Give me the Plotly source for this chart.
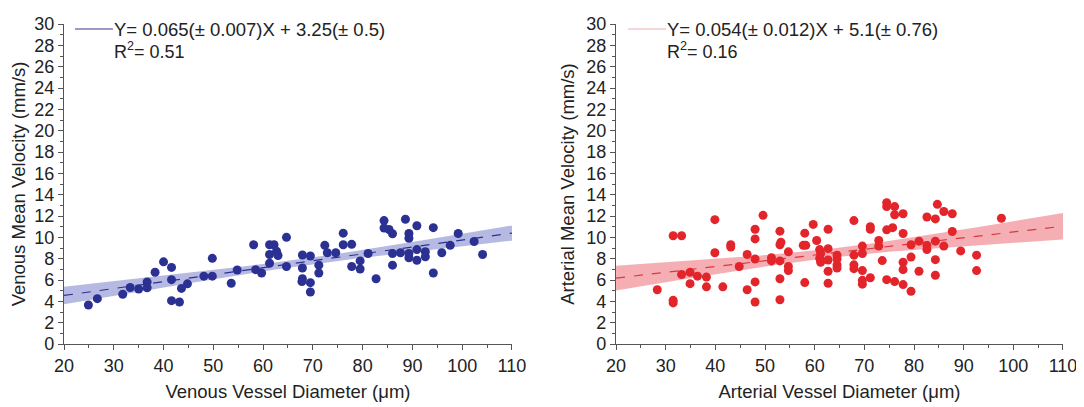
import numpy as np
import plotly.graph_objects as go
from plotly.subplots import make_subplots

# ---------------- data ----------------
ven_d = [24.9, 26.7, 31.8, 33.3, 35.0, 36.7, 36.7, 38.3, 40.0, 41.6, 41.6, 41.6, 43.2, 43.6, 44.8,
         48.1, 49.8, 49.8, 53.6, 54.8, 58.1, 58.5, 59.7, 61.3, 62.2, 61.3, 62.7, 63.0, 61.3, 64.7,
         64.7, 67.9, 67.9, 67.9, 67.8, 69.5, 69.5, 69.5, 71.2, 71.2, 72.4, 72.9, 74.6, 76.1, 76.1,
         77.8, 77.8, 79.5, 79.5, 81.1, 82.7, 84.3, 84.3, 85.3, 86.0, 86.0, 86.0, 87.6, 88.6, 89.3,
         89.3, 89.3, 89.3, 90.9, 90.9, 90.9, 92.6, 92.6, 94.2, 94.2, 95.9, 97.6, 99.2, 102.4, 104.1]
ven_v = [3.66, 4.25, 4.66, 5.30, 5.15, 5.82, 5.27, 6.73, 7.70, 7.18, 6.03, 4.06, 3.94, 5.21, 5.64,
         6.36, 6.36, 8.03, 5.70, 6.94, 9.30, 6.97, 6.66, 9.30, 9.30, 8.39, 8.70, 8.30, 7.57, 10.0,
         7.27, 8.34, 7.12, 6.12, 5.85, 8.25, 5.75, 4.88, 7.39, 6.66, 9.25, 8.55, 8.55, 10.39, 9.30,
         9.34, 7.27, 7.79, 7.03, 8.48, 6.12, 11.57, 10.88, 10.73, 10.34, 8.48, 7.39, 8.55, 11.70, 10.36,
         9.91, 8.48, 8.09, 11.09, 8.85, 7.85, 8.66, 8.18, 10.91, 6.66, 8.55, 9.25, 10.36, 9.61, 8.39]

art_d = [28.3, 31.5, 33.2, 31.5, 31.5, 33.2, 34.9, 34.9, 36.4, 38.2, 38.2, 39.9, 39.9, 41.5, 43.1,
         43.1, 44.8, 46.4, 46.4, 48.0, 48.0, 48.0, 48.0, 48.0, 49.6, 51.3, 51.3, 53.0, 53.2, 53.0,
         53.0, 53.0, 53.0, 54.7, 54.7, 54.7, 58.0, 57.7, 58.2, 58.0, 59.7, 60.4, 61.0, 61.2, 61.0,
         61.2, 62.7, 62.7, 62.7, 62.7, 62.7, 64.5, 64.5, 64.5, 64.5, 67.9, 67.9, 67.9, 67.9, 69.6,
         69.6, 69.6, 69.6, 69.6, 71.2, 71.2, 71.2, 72.9, 72.9, 73.6, 74.5, 74.5, 74.5, 74.5, 75.7,
         76.1, 76.1, 76.1, 77.8, 77.8, 77.8, 77.8, 77.8, 79.4, 79.4, 79.4, 81.0, 81.0, 82.6, 82.6,
         82.6, 84.3, 84.3, 84.3, 84.3, 84.7, 86.0, 86.0, 87.7, 87.7, 89.4, 92.6, 92.6, 97.6]
art_v = [5.09, 10.15, 10.15, 4.09, 3.85, 6.52, 6.73, 5.66, 6.36, 6.27, 5.36, 11.66, 8.55, 5.36, 9.30,
         9.09, 7.27, 8.39, 5.09, 10.76, 9.85, 7.97, 5.82, 3.94, 12.06, 8.09, 7.79, 10.58, 9.55, 9.30,
         7.79, 6.12, 4.15, 8.64, 7.27, 6.88, 10.39, 9.25, 9.25, 5.76, 11.21, 9.70, 8.85, 8.48, 8.03,
         7.66, 10.76, 8.94, 7.88, 6.82, 5.70, 8.33, 7.97, 7.42, 7.12, 11.57, 8.33, 7.42, 7.06, 9.18,
         8.48, 6.88, 5.97, 5.61, 11.00, 10.76, 6.21, 9.70, 9.18, 7.82, 13.24, 12.88, 10.70, 6.03, 10.91,
         12.88, 12.12, 5.85, 12.21, 10.36, 7.66, 6.97, 5.57, 9.30, 8.15, 4.94, 9.64, 6.82, 11.91, 9.24,
         8.85, 11.73, 9.64, 7.91, 6.45, 13.09, 12.42, 9.18, 12.21, 10.55, 8.73, 8.33, 6.88, 11.79]

ven_fit = (0.065, 3.25)   # slope, intercept
art_fit = (0.054, 5.1)
ven_eq = "Y= 0.065(± 0.007)X + 3.25(± 0.5)"
art_eq = "Y= 0.054(± 0.012)X + 5.1(± 0.76)"
ven_r2 = "R<sup>2</sup>= 0.51"
art_r2 = "R<sup>2</sup>= 0.16"
x_ticks = list(range(20, 111, 10))
y_ticks = list(range(0, 31, 2))

FONT = "Liberation Sans, Arial, sans-serif"

fig = make_subplots(rows=1, cols=2, horizontal_spacing=0.1042)


def band(xd, yd, fit):
    xd = np.asarray(xd); yd = np.asarray(yd)
    a, b = fit
    n = len(xd)
    res = yd - (a * xd + b)
    s = np.sqrt(np.sum(res ** 2) / (n - 2))
    xm = xd.mean(); sxx = np.sum((xd - xm) ** 2)
    xs = np.linspace(20, 110, 100)
    half = 1.98 * s * np.sqrt(1.0 / n + (xs - xm) ** 2 / sxx)
    ys = a * xs + b
    return xs, ys, half


panels = [
    (ven_d, ven_v, ven_fit, "#2b3192", "rgba(110,115,195,0.50)", "#2b3192", 1),
    (art_d, art_v, art_fit, "#e3242b", "rgba(235,95,105,0.50)", "#d8383e", 2),
]
for xd, yd, fit, mcol, bcol, lcol, c in panels:
    xs, ys, half = band(xd, yd, fit)
    fig.add_trace(go.Scatter(x=np.concatenate([xs, xs[::-1]]),
                             y=np.concatenate([ys + half, (ys - half)[::-1]]),
                             fill="toself", fillcolor=bcol, line=dict(width=0),
                             hoverinfo="skip", showlegend=False), row=1, col=c)
    fig.add_trace(go.Scatter(x=xs, y=ys, mode="lines",
                             line=dict(color=lcol, width=1.2, dash="dash"),
                             showlegend=False), row=1, col=c)
    fig.add_trace(go.Scatter(x=xd, y=yd, mode="markers",
                             marker=dict(color=mcol, size=9, line=dict(width=0)),
                             showlegend=False), row=1, col=c)

axis_common = dict(showgrid=False, zeroline=False, showline=True, linecolor="#555",
                   linewidth=1.3, ticks="outside", ticklen=5, tickcolor="#555",
                   ticklabeloverflow="allow",
                   tickfont=dict(family=FONT, size=18, color="#222"),
                   title_font=dict(family=FONT, size=18.5, color="#222"))
for c, xt, yt in [(1, "Venous Vessel Diameter (μm)", "Venous Mean Velocity (mm/s)"),
                  (2, "Arterial Vessel Diameter (μm)", "Arterial Mean Velocity (mm/s)")]:
    fig.update_xaxes(range=[20, 110], tickvals=x_ticks, title_text=xt, title_standoff=10,
                     minor=dict(dtick=5, ticks="outside", ticklen=3, tickcolor="#555"),
                     **axis_common, row=1, col=c)
    fig.update_yaxes(range=[0, 30], tickvals=y_ticks, title_text=yt, title_standoff=6,
                     minor=dict(dtick=1, ticks="outside", ticklen=3, tickcolor="#555"),
                     **axis_common, row=1, col=c)

fig.update_xaxes(domain=[0, 0.4484], row=1, col=1)
fig.update_xaxes(domain=[0.5526, 1.0], row=1, col=2)

# legend-like labels
for x0, lc, eq, r2 in [(0.011, "#7a78b4", ven_eq, ven_r2), (0.5646, "#f4c8cc", art_eq, art_r2)]:
    fig.add_shape(type="line", xref="paper", yref="paper", x0=x0, x1=x0 + 0.038,
                  y0=0.984, y1=0.984, line=dict(color=lc, width=1.5))
    fig.add_annotation(xref="paper", yref="paper", x=x0 + 0.037, y=0.984, text=eq,
                       showarrow=False, xanchor="left", yanchor="middle",
                       font=dict(family=FONT, size=18.5, color="#222"))
    fig.add_annotation(xref="paper", yref="paper", x=x0 + 0.037, y=0.918, text=r2,
                       showarrow=False, xanchor="left", yanchor="middle",
                       font=dict(family=FONT, size=18, color="#222"))

# page has an 8px body margin, so the figure is shrunk by that amount
fig.update_layout(width=1076, height=399, margin=dict(l=56, r=21, t=6, b=63),
                  plot_bgcolor="white", paper_bgcolor="white", showlegend=False)

fig.write_html("out.html")
